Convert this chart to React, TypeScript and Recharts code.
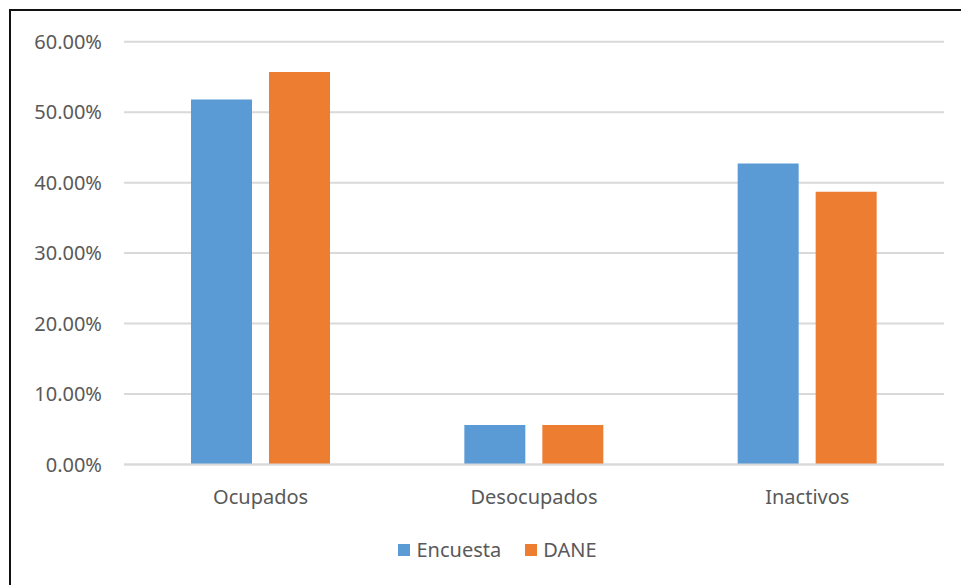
import { BarChart, Bar, XAxis, YAxis, CartesianGrid, Legend } from "recharts";

const categories = ["Ocupados", "Desocupados", "Inactivos"];
const encuesta = [51.8, 5.6, 42.7];
const dane = [55.7, 5.6, 38.7];
const yTicks = [0, 10, 20, 30, 40, 50, 60];
const seriesNames = ["Encuesta", "DANE"];

const BLUE = "#5B9BD5";
const ORANGE = "#ED7D31";
const LABEL = "#595959";
const GRID = "#d9d9d9";
const FONT = "'Noto Sans', sans-serif";

const data = categories.map((name, i) => ({
  name,
  encuesta: encuesta[i],
  dane: dane[i],
}));

function ExcelLegend({ payload }: any) {
  if (!payload) return null;
  const items = [...payload].sort(
    (a: any, b: any) => seriesNames.indexOf(a.value) - seriesNames.indexOf(b.value)
  );
  return (
    <div style={{ display: "flex", justifyContent: "center", gap: 24, fontSize: 20, color: LABEL }}>
      {items.map((entry: any) => (
        <div key={entry.value} style={{ display: "flex", alignItems: "center" }}>
          <span
            style={{ width: 12, height: 12, background: entry.color, marginRight: 6, display: "inline-block" }}
          />
          <span>{entry.value}</span>
        </div>
      ))}
    </div>
  );
}

export default function App() {
  return (
    <div
      style={{
        position: "fixed",
        left: 0,
        top: 0,
        width: 961,
        height: 585,
        background: "#fff",
        overflow: "hidden",
        fontFamily: FONT,
      }}
    >
      {/* chart frame, only left and top edges fall inside the picture */}
      <div
        style={{
          position: "absolute",
          left: 9,
          top: 9,
          width: 1100,
          height: 800,
          borderLeft: "2px solid #111",
          borderTop: "2px solid #111",
        }}
      />
      <div style={{ position: "absolute", left: 0, top: 0 }}>
        <BarChart
          width={961}
          height={585}
          data={data}
          margin={{ top: 41.7, right: 17, left: 10, bottom: 90.5 }}
          barGap={17}
          barSize={61}
        >
          <CartesianGrid vertical={false} stroke={GRID} strokeWidth={2} />
          <XAxis
            dataKey="name"
            height={30}
            axisLine={{ stroke: GRID, strokeWidth: 2 }}
            tickLine={false}
            tickSize={0}
            tickMargin={25}
            tick={{ fill: LABEL, fontSize: 20, fontFamily: FONT }}
          />
          <YAxis
            width={114}
            domain={[0, 60]}
            ticks={yTicks}
            axisLine={false}
            tickLine={false}
            tickSize={0}
            tickMargin={22}
            tickFormatter={(v: number) => `${v.toFixed(2)}%`}
            tick={{ fill: LABEL, fontSize: 20, fontFamily: FONT }}
          />
          <Legend
            layout="horizontal"
            verticalAlign="middle"
            align="center"
            content={<ExcelLegend />}
            wrapperStyle={{ top: 536, left: 17, width: 961, fontFamily: FONT }}
          />
          <Bar dataKey="encuesta" name="Encuesta" fill={BLUE} isAnimationActive={false} />
          <Bar dataKey="dane" name="DANE" fill={ORANGE} isAnimationActive={false} />
        </BarChart>
      </div>
    </div>
  );
}
